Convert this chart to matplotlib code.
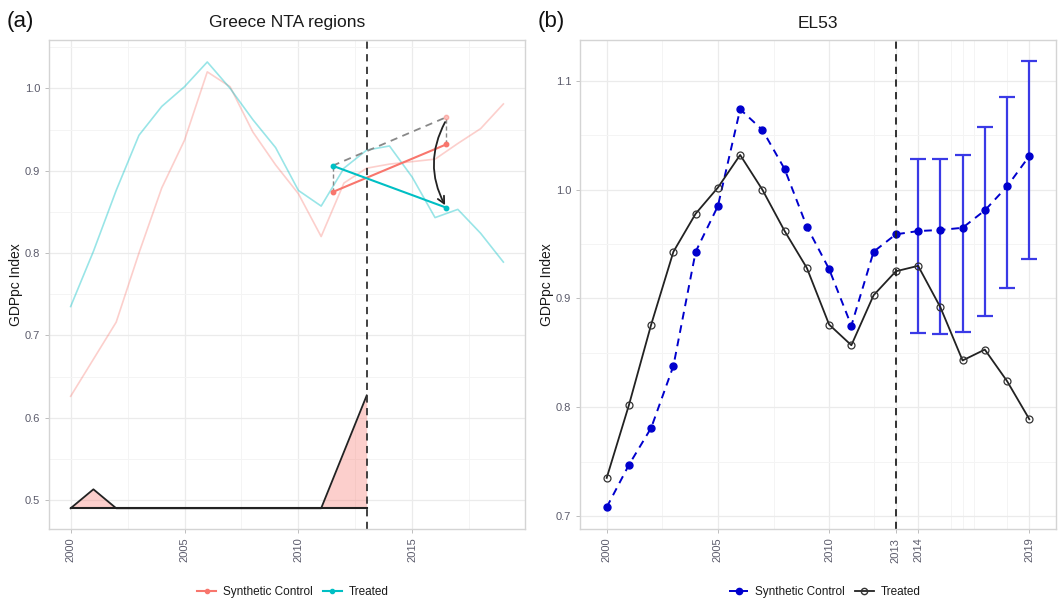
import numpy as np
import matplotlib
matplotlib.use("Agg")
import matplotlib.pyplot as plt
from matplotlib.lines import Line2D
from matplotlib.ticker import FixedLocator

plt.rcParams['font.family'] = ['Liberation Sans', 'DejaVu Sans']

# ---- data ----
years = list(range(2000, 2020))
treated = [0.735, 0.802, 0.876, 0.943, 0.978, 1.002, 1.032, 1.000, 0.962, 0.928,
           0.876, 0.857, 0.903, 0.925, 0.930, 0.892, 0.843, 0.853, 0.824, 0.789]
synth_nta = [0.626, 0.671, 0.716, 0.800, 0.879, 0.937, 1.020, 1.002, 0.947, 0.907,
             0.872, 0.820, 0.885, 0.903, 0.908, 0.911, 0.914, 0.933, 0.951, 0.981]
synth_el53 = [0.708, 0.747, 0.781, 0.838, 0.943, 0.985, 1.074, 1.055, 1.019, 0.966,
              0.927, 0.875, 0.943, 0.959, 0.962, 0.963, 0.965, 0.981, 1.003, 1.031]

ci_years = [2014, 2015, 2016, 2017, 2018, 2019]
ci_low = [0.868, 0.867, 0.869, 0.884, 0.910, 0.936]
ci_high = [1.028, 1.028, 1.032, 1.058, 1.085, 1.118]

band_years = list(range(2000, 2014))
band_vals = [0.49, 0.513, 0.49, 0.49, 0.49, 0.49, 0.49, 0.49, 0.49, 0.49,
             0.49, 0.49, 0.5585, 0.627]
band_base = 0.49

seg_x = [2011.5, 2016.5]
synth_seg = [0.874, 0.932]
treated_seg = [0.906, 0.855]
shifted_seg = [0.906, 0.965]

treat_year = 2013

ticks_a = [2000, 2005, 2010, 2015]
ticks_b = [2000, 2005, 2010, 2013, 2014, 2019]
minor_b = [2002.5, 2007.5, 2012, 2015.5, 2016, 2016.5, 2018]

PINK = '#F8766D'
CYAN = '#00BFC4'
BLUE = '#0000CD'
TICK_COL = '#5b5b6b'

W, H = 1059, 602
fig = plt.figure(figsize=(W / 100, H / 100), dpi=100)


def px_axes(x0, y0, x1, y1):
    return fig.add_axes([x0 / W, 1 - y1 / H, (x1 - x0) / W, (y1 - y0) / H])


def style_axes(ax):
    for s in ax.spines.values():
        s.set_color('#d4d4d4')
        s.set_linewidth(1.0)
    ax.set_facecolor('white')
    ax.grid(which='major', color='#ebebeb', linewidth=0.9)
    ax.grid(which='minor', color='#f4f4f4', linewidth=0.7)
    ax.set_axisbelow(True)
    ax.tick_params(which='major', length=2.8, width=0.7, color='#bdbdbd',
                   labelsize=8, labelcolor=TICK_COL)
    ax.tick_params(which='minor', length=0)
    ax.tick_params(axis='x', labelrotation=90)
    ax.set_ylabel('GDPpc Index', fontsize=10, color='#1a1a1a', labelpad=1.5)


# ---- panel (a) ----
ax1 = px_axes(49, 40, 525, 529)
style_axes(ax1)
ax1.set_xlim(1999.05, 2019.95)
ax1.set_ylim(0.4648, 1.0587)
ax1.xaxis.set_major_locator(FixedLocator(ticks_a))
ax1.xaxis.set_minor_locator(FixedLocator([2002.5, 2007.5, 2012.5, 2017.5]))
ax1.yaxis.set_major_locator(FixedLocator([0.5, 0.6, 0.7, 0.8, 0.9, 1.0]))
ax1.yaxis.set_minor_locator(FixedLocator([0.55, 0.65, 0.75, 0.85, 0.95, 1.05]))
ax1.set_yticklabels(['0.5', '0.6', '0.7', '0.8', '0.9', '1.0'])

ax1.plot(years, synth_nta, color=PINK, alpha=0.35, lw=1.2)
ax1.plot(years, treated, color=CYAN, alpha=0.4, lw=1.2)

ax1.fill_between(band_years, band_base, band_vals, color=PINK, alpha=0.35, lw=0)
ax1.plot(band_years, band_vals, color='#222222', lw=1.3)
ax1.plot([band_years[0], band_years[-1]], [band_base, band_base], color='#222222', lw=1.5)

ax1.axvline(treat_year, color='#333333', lw=1.3, ls=(0, (4, 3)))

# decomposition sketch
ax1.plot([seg_x[0], seg_x[0]], [synth_seg[0], treated_seg[0]], color='#888888', lw=1.0, ls=(0, (3, 2)))
ax1.plot([seg_x[1], seg_x[1]], [synth_seg[1], shifted_seg[1]], color='#888888', lw=1.0, ls=(0, (3, 2)))
ax1.plot(seg_x, shifted_seg, color='#888888', lw=1.3, ls=(0, (4, 3)))
ax1.plot(seg_x, synth_seg, color=PINK, lw=1.5, marker='o', ms=3.2)
ax1.plot(seg_x, treated_seg, color=CYAN, lw=1.5, marker='o', ms=3.2)
ax1.plot([seg_x[1]], [shifted_seg[1]], 'o', color=PINK, alpha=0.45, ms=3.2)
ax1.annotate('', xy=(seg_x[1], treated_seg[1]), xytext=(seg_x[1], shifted_seg[1] - 0.003),
             arrowprops=dict(arrowstyle='->,head_length=0.5,head_width=0.25',
                             connectionstyle='arc3,rad=0.28', color='#222222', lw=1.3))

ax1.set_title('Greece NTA regions', fontsize=12.5, color='#1a1a1a', pad=9)

h_a = [Line2D([], [], color=PINK, lw=1.5, marker='o', ms=3),
       Line2D([], [], color=CYAN, lw=1.5, marker='o', ms=3)]
fig.legend(h_a, ['Synthetic Control', 'Treated'], loc='center', ncol=2,
           bbox_to_anchor=(293 / W, 1 - 592 / H), frameon=False, fontsize=8.5,
           handlelength=1.6, handletextpad=0.6, columnspacing=0.8,
           labelcolor='#1a1a1a')

# ---- panel (b) ----
ax2 = px_axes(580, 40, 1056, 529)
style_axes(ax2)
ax2.set_xlim(1998.8, 2020.2)
ax2.set_ylim(0.688, 1.1377)
ax2.xaxis.set_major_locator(FixedLocator(ticks_b))
ax2.xaxis.set_minor_locator(FixedLocator(minor_b))
ax2.yaxis.set_major_locator(FixedLocator([0.7, 0.8, 0.9, 1.0, 1.1]))
ax2.yaxis.set_minor_locator(FixedLocator([0.75, 0.85, 0.95, 1.05]))
ax2.set_yticklabels(['0.7', '0.8', '0.9', '1.0', '1.1'])

ci_mid = synth_el53[years.index(ci_years[0]):]
ax2.errorbar(ci_years, ci_mid,
             yerr=[np.array(ci_mid) - np.array(ci_low), np.array(ci_high) - np.array(ci_mid)],
             fmt='none', ecolor='#3a3ae6', elinewidth=1.6, capsize=5.5, capthick=1.6)
ax2.plot(years, synth_el53, color=BLUE, lw=1.4, ls=(0, (4, 3)), marker='o', ms=5.0)
ax2.plot(years, treated, color='#222222', lw=1.3, marker='o', ms=5.0,
         mfc='none', mec='#333333', mew=0.9)
ax2.axvline(treat_year, color='#222222', lw=1.3, ls=(0, (4, 3)))

ax2.set_title('EL53', fontsize=12.5, color='#1a1a1a', pad=9)

h_b = [Line2D([], [], color=BLUE, lw=1.4, ls=(0, (4, 3)), marker='o', ms=4.5),
       Line2D([], [], color='#222222', lw=1.3, marker='o', ms=4.5, mfc='none', mec='#333333')]
fig.legend(h_b, ['Synthetic Control', 'Treated'], loc='center', ncol=2,
           bbox_to_anchor=(825 / W, 1 - 592 / H), frameon=False, fontsize=8.5,
           handlelength=1.6, handletextpad=0.6, columnspacing=0.8,
           labelcolor='#1a1a1a')

# panel tags
fig.text(7 / W, 1 - 22 / H, '(a)', fontsize=16, va='center', ha='left', color='#111111')
fig.text(538 / W, 1 - 22 / H, '(b)', fontsize=16, va='center', ha='left', color='#111111')

fig.savefig('out.png', dpi=100, facecolor='white')
